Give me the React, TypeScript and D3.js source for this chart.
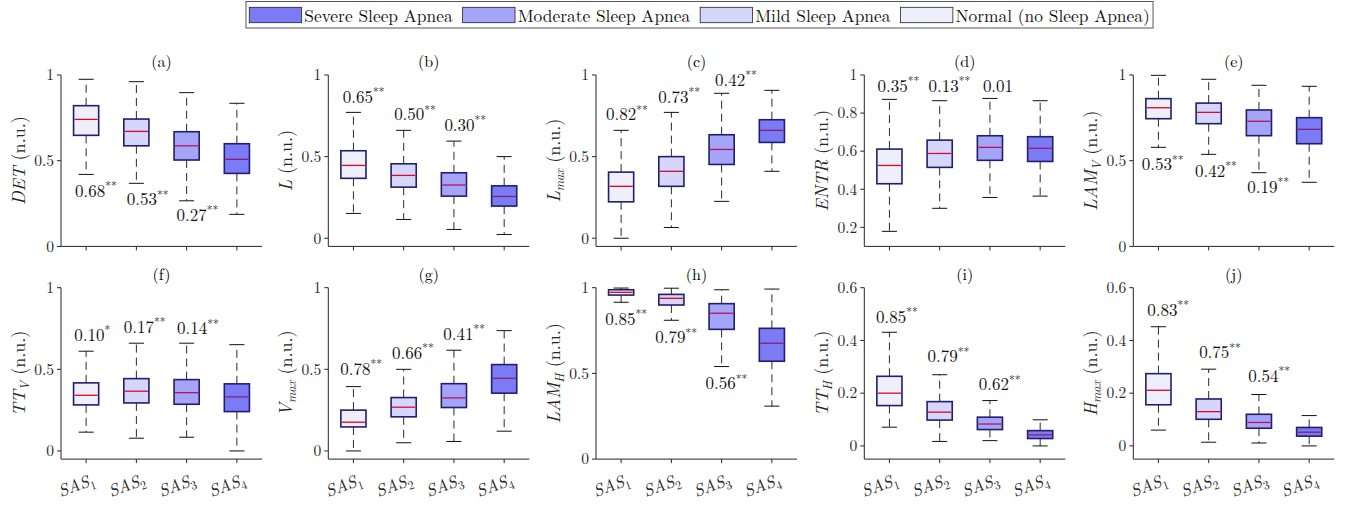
import React, { useLayoutEffect, useRef, useState } from "react";
import * as d3 from "d3";

// groups, from SAS1 (lightest) to SAS4 (darkest)
const groupSubs = ["1", "2", "3", "4"];
const legendNames = ["Severe Sleep Apnea", "Moderate Sleep Apnea", "Mild Sleep Apnea", "Normal (no Sleep Apnea)"];

// box stats per group: [lower whisker, q1, median, q3, upper whisker]
const detStats = [[0.42, 0.648, 0.741, 0.821, 0.975], [0.368, 0.587, 0.671, 0.743, 0.961], [0.266, 0.504, 0.587, 0.669, 0.897], [0.187, 0.426, 0.508, 0.599, 0.835]];
const lStats = [[0.152, 0.367, 0.446, 0.536, 0.771], [0.115, 0.313, 0.385, 0.456, 0.661], [0.054, 0.258, 0.326, 0.401, 0.595], [0.023, 0.197, 0.256, 0.321, 0.5]];
const lmaxStats = [[0, 0.223, 0.318, 0.405, 0.661], [0.066, 0.318, 0.41, 0.5, 0.771], [0.226, 0.452, 0.544, 0.634, 0.888], [0.41, 0.587, 0.661, 0.726, 0.906]];
const entrStats = [[0.179, 0.429, 0.525, 0.611, 0.872], [0.3, 0.515, 0.588, 0.658, 0.865], [0.357, 0.552, 0.62, 0.681, 0.877], [0.364, 0.546, 0.615, 0.676, 0.865]];
const lamvStats = [[0.578, 0.745, 0.809, 0.862, 0.998], [0.537, 0.716, 0.782, 0.836, 0.975], [0.43, 0.646, 0.73, 0.796, 0.94], [0.374, 0.599, 0.683, 0.751, 0.934]];
const ttvStats = [[0.115, 0.282, 0.341, 0.417, 0.611], [0.078, 0.294, 0.366, 0.443, 0.66], [0.084, 0.286, 0.357, 0.437, 0.66], [0, 0.241, 0.331, 0.411, 0.651]];
const vmaxStats = [[0, 0.147, 0.176, 0.25, 0.394], [0.05, 0.209, 0.268, 0.327, 0.5], [0.058, 0.266, 0.325, 0.412, 0.617], [0.121, 0.354, 0.445, 0.529, 0.737]];
const lamhStats = [[0.915, 0.957, 0.973, 0.988, 0.998], [0.81, 0.899, 0.938, 0.961, 0.997], [0.54, 0.757, 0.851, 0.907, 0.988], [0.309, 0.571, 0.676, 0.763, 0.992]];
const tthStats = [[0.071, 0.153, 0.2, 0.264, 0.431], [0.017, 0.098, 0.128, 0.168, 0.27], [0.02, 0.062, 0.083, 0.109, 0.172], [0, 0.028, 0.042, 0.058, 0.099]];
const hmaxStats = [[0.06, 0.156, 0.211, 0.274, 0.452], [0.014, 0.101, 0.13, 0.178, 0.291], [0.011, 0.067, 0.089, 0.12, 0.195], [0, 0.037, 0.052, 0.07, 0.115]];

// effect size notes: [value, stars, x (category units), y (data units)]
const detNotes = [["0.68", "**", 0.78, 0.29], ["0.53", "**", 1.81, 0.241], ["0.27", "**", 2.8, 0.15]];
const lNotes = [["0.65", "**", 0.79, 0.83], ["0.50", "**", 1.81, 0.724], ["0.30", "**", 2.81, 0.659]];
const lmaxNotes = [["0.82", "**", 0.7, 0.724], ["0.73", "**", 1.74, 0.83], ["0.42", "**", 2.87, 0.934]];
const entrNotes = [["0.35", "**", 0.765, 0.912], ["0.13", "**", 1.78, 0.912], ["0.01", "", 2.86, 0.912]];
const lamvNotes = [["0.53", "**", 0.667, 0.445], ["0.42", "**", 1.73, 0.406], ["0.19", "**", 2.77, 0.313]];
const ttvNotes = [["0.10", "*", 0.765, 0.674], ["0.17", "**", 1.75, 0.725], ["0.14", "**", 2.81, 0.715]];
const vmaxNotes = [["0.78", "**", 0.74, 0.466], ["0.66", "**", 1.77, 0.564], ["0.41", "**", 2.79, 0.68]];
const lamhNotes = [["0.85", "**", 0.685, 0.783], ["0.79", "**", 1.68, 0.676], ["0.56", "**", 2.68, 0.408]];
const tthNotes = [["0.85", "**", 0.733, 0.467], ["0.79", "**", 1.76, 0.317], ["0.62", "**", 2.78, 0.212]];
const hmaxNotes = [["0.83", "**", 0.78, 0.493], ["0.75", "**", 1.81, 0.333], ["0.54", "**", 2.79, 0.244]];

const ticksHalf = [0, 0.5, 1];
const ticksEntr = [0.2, 0.4, 0.6, 0.8, 1];
const ticksSmall = [0, 0.2, 0.4, 0.6];

const panels = [
  { id: "a", name: "DET", sub: "", stats: detStats, notes: detNotes, domain: [0, 1], ticks: ticksHalf },
  { id: "b", name: "L", sub: "", stats: lStats, notes: lNotes, domain: [-0.05, 1], ticks: ticksHalf },
  { id: "c", name: "L", sub: "max", stats: lmaxStats, notes: lmaxNotes, domain: [-0.05, 1], ticks: ticksHalf },
  { id: "d", name: "ENTR", sub: "", stats: entrStats, notes: entrNotes, domain: [0.1, 1], ticks: ticksEntr },
  { id: "e", name: "LAM", sub: "V", stats: lamvStats, notes: lamvNotes, domain: [0, 1], ticks: ticksHalf },
  { id: "f", name: "TT", sub: "V", stats: ttvStats, notes: ttvNotes, domain: [-0.05, 1], ticks: ticksHalf },
  { id: "g", name: "V", sub: "max", stats: vmaxStats, notes: vmaxNotes, domain: [-0.05, 1], ticks: ticksHalf },
  { id: "h", name: "LAM", sub: "H", stats: lamhStats, notes: lamhNotes, domain: [0, 1], ticks: ticksHalf },
  { id: "i", name: "TT", sub: "H", stats: tthStats, notes: tthNotes, domain: [-0.05, 0.6], ticks: ticksSmall },
  { id: "j", name: "H", sub: "max", stats: hmaxStats, notes: hmaxNotes, domain: [-0.05, 0.6], ticks: ticksSmall },
];

const boxFills = ["#efeffc", "#d6d6fa", "#a4a4f8", "#7b7bf6"]; // SAS1..SAS4
const medianColors = ["#e2061f", "#d80a30", "#b81559", "#8a1f70"];
const legendFills = ["#7b7bf6", "#a4a4f8", "#d6d6fa", "#efeffc"];
const FONT = "'Latin Modern Roman', 'CMU Serif', 'Liberation Serif', serif";
const INK = "#262626";

const colLeft = [61, 328.3, 596, 864.3, 1133.3];
const rowTop = [75, 287.7];
const axW = 201;
const axH = 171.4;

function Panel({ p, idx }: { p: (typeof panels)[number]; idx: number }) {
  const row = Math.floor(idx / 5);
  const left = colLeft[idx % 5];
  const top = rowTop[row];
  const x = d3.scaleLinear().domain([0.5, 4.5]).range([left, left + axW]);
  const y = d3.scaleLinear().domain(p.domain).range([top + axH, top]);
  const bottom = top + axH;
  const bw = 0.25; // half box width (category units)
  const cw = 0.15; // half cap width

  return (
    <g style={{ fontFamily: FONT }}>
      {/* axes */}
      <line x1={left} x2={left} y1={top} y2={bottom} stroke={INK} />
      <line x1={left} x2={left + axW} y1={bottom} y2={bottom} stroke={INK} />
      {p.ticks.map((t) => (
        <g key={"yt" + t}>
          <line x1={left - 4} x2={left} y1={y(t)} y2={y(t)} stroke={INK} />
          <text x={left - 7} y={y(t)} dy="0.34em" textAnchor="end" fill={INK} style={{ fontSize: 15.5 }}>
            {String(t)}
          </text>
        </g>
      ))}
      {groupSubs.map((_, i) => (
        <line key={"xt" + i} x1={x(i + 1)} x2={x(i + 1)} y1={bottom} y2={bottom + 4} stroke={INK} />
      ))}

      {/* title */}
      <text x={left + axW / 2} y={top - 8} textAnchor="middle" fill="#000" style={{ fontSize: 16 }}>
        ({p.id})
      </text>

      {/* y label */}
      <text
        transform={`translate(${left - 42},${top + axH / 2}) rotate(-90)`}
        dy="0.32em"
        textAnchor="middle"
        fill={INK}
        style={{ fontSize: 18 }}
      >
        <tspan style={{ fontStyle: "italic" }}>{p.name}</tspan>
        {p.sub ? (
          <>
            <tspan dy={4} style={{ fontStyle: "italic", fontSize: 12.5 }}>{p.sub}</tspan>
            <tspan dy={-4}> (n.u.)</tspan>
          </>
        ) : (
          <tspan> (n.u.)</tspan>
        )}
      </text>

      {/* boxes */}
      {p.stats.map((s, i) => {
        const c = i + 1;
        const [lo, q1, med, q3, hi] = s;
        return (
          <g key={"box" + i}>
            <line x1={x(c)} x2={x(c)} y1={y(q3)} y2={y(hi)} stroke="#2a2a2a" strokeDasharray="8,5" />
            <line x1={x(c)} x2={x(c)} y1={y(q1)} y2={y(lo)} stroke="#2a2a2a" strokeDasharray="8,5" />
            <line x1={x(c - cw)} x2={x(c + cw)} y1={y(hi)} y2={y(hi)} stroke="#111" />
            <line x1={x(c - cw)} x2={x(c + cw)} y1={y(lo)} y2={y(lo)} stroke="#111" />
            <rect
              x={x(c - bw)}
              y={y(q3)}
              width={x(c + bw) - x(c - bw)}
              height={y(q1) - y(q3)}
              fill={boxFills[i]}
              stroke="#1f1f6e"
              strokeWidth={1.6}
            />
            <line x1={x(c - bw) + 1} x2={x(c + bw) - 1} y1={y(med)} y2={y(med)} stroke={medianColors[i]} strokeWidth={1.3} />
          </g>
        );
      })}

      {/* effect sizes */}
      {p.notes.map((n, k) => (
        <text key={"n" + k} x={x(n[2] as number)} y={y(n[3] as number)} fill="#111" style={{ fontSize: 17 }}>
          <tspan>{n[0] as string}</tspan>
          {n[1] ? <tspan dy={-6.5} style={{ fontSize: 11.5 }}>{n[1] as string}</tspan> : null}
        </text>
      ))}

      {/* x tick labels, bottom row only */}
      {row === 1 &&
        groupSubs.map((sub, i) => (
          <text
            key={"xl" + i}
            transform={`translate(${x(i + 1) + 10},${bottom + 25}) rotate(-20)`}
            textAnchor="end"
            fill={INK}
            style={{ fontSize: 17 }}
          >
            <tspan style={{ fontStyle: "italic" }}>SAS</tspan>
            <tspan dy={4} style={{ fontSize: 12 }}>{sub}</tspan>
          </text>
        ))}
    </g>
  );
}

function Legend() {
  const refs = useRef<(SVGTextElement | null)[]>([]);
  const [widths, setWidths] = useState<number[]>([149, 172, 135, 194]);
  useLayoutEffect(() => {
    const w = refs.current.map((t) => (t ? t.getComputedTextLength() : 0));
    if (w.every((v) => v > 0)) setWidths(w);
  }, []);
  const sw = 52.4, pad = 3.3, tgap = 2.6, egap = 10;
  const total = pad * 2 + widths.reduce((a, w) => a + sw + tgap + w, 0) + egap * 3;
  const x0 = 699.5 - total / 2;
  let cx = x0 + pad;
  const items = legendNames.map((name, i) => {
    const sx = cx;
    cx += sw + tgap + widths[i] + egap;
    return (
      <g key={name}>
        <rect x={sx} y={7.3} width={sw} height={15.4} fill={legendFills[i]} stroke="#222" strokeWidth={0.8} />
        <text
          ref={(el) => {
            refs.current[i] = el;
          }}
          x={sx + sw + tgap}
          y={22}
          fill="#111"
          style={{ fontFamily: FONT, fontSize: 17.4 }}
        >
          {name}
        </text>
      </g>
    );
  });
  return (
    <g>
      <rect x={x0} y={1.5} width={total} height={26.5} fill="#fff" stroke="#555" strokeWidth={1} />
      {items}
    </g>
  );
}

export default function App() {
  return (
    <svg width={1345} height={505} style={{ position: "absolute", left: 0, top: 0, background: "#fff" }}>
      <Legend />
      {panels.map((p, i) => (
        <Panel key={p.id} p={p} idx={i} />
      ))}
    </svg>
  );
}
